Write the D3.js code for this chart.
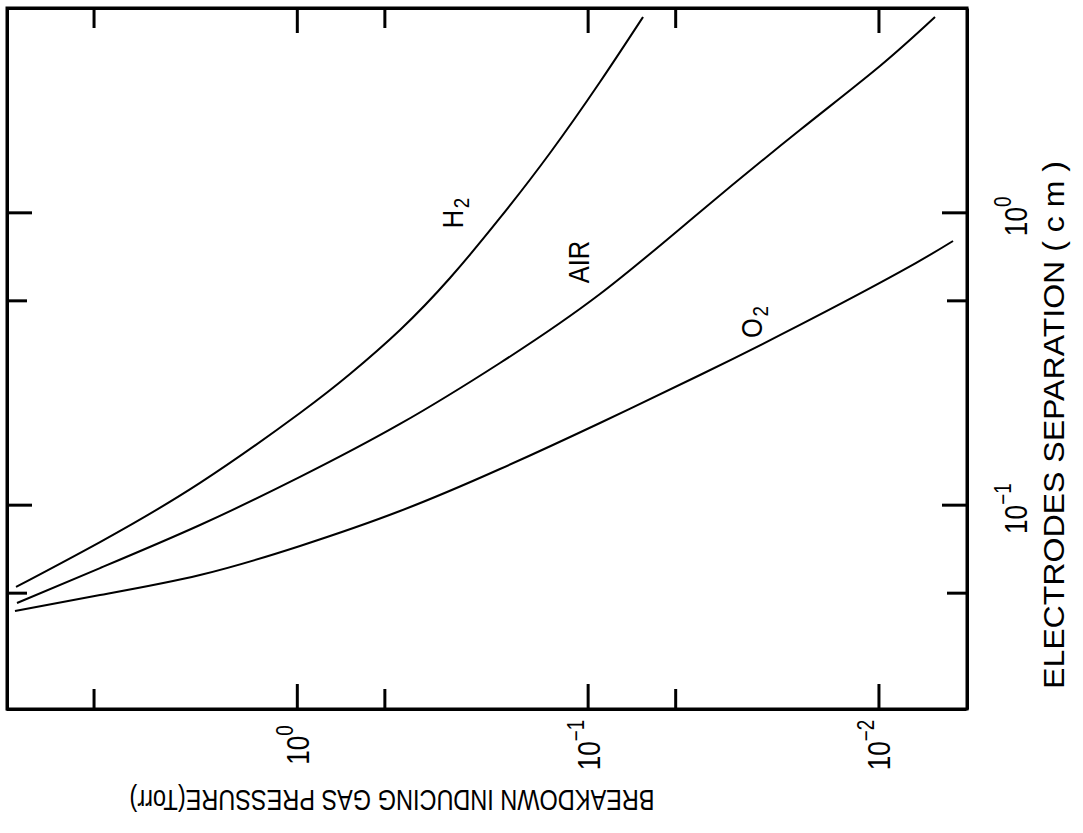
<!DOCTYPE html>
<html>
<head>
<meta charset="utf-8">
<script src="https://cdn.jsdelivr.net/npm/d3@7"></script>
<style>
  body { margin: 0; background: #fff; }
  svg { display: block; }
  text { font-family: "Liberation Sans", "DejaVu Sans", sans-serif; fill: #000; }
</style>
</head>
<body>
<div id="chart"></div>
<script>
// pressure axis (Torr), drawn left->right, decreasing
const pressureMajor = [1, 0.1, 0.01];
const pressureMinor = [5, 0.5, 0.05];
const pressureLabels = [["10", "0"], ["10", "\u22121"], ["10", "\u22122"]];

// electrode separation axis (cm), increasing upward
const sepMajor = [1, 0.1];
const sepMinor = [0.5, 0.05];
const sepLabels = [["10", "0"], ["10", "\u22121"]];

// curves: pressure (Torr) / separation (cm)
const h2Pressure = [9.24, 4.75, 2.152, 0.975, 0.6565, 0.4418, 0.2974, 0.2002, 0.1347, 0.0907, 0.0645];
const h2Separation = [0.0523, 0.0745, 0.1187, 0.2059, 0.2799, 0.396, 0.5963, 0.9564, 1.596, 2.792, 4.659];

const airPressure = [9.166, 4.75, 2.152, 0.975, 0.4418, 0.2002, 0.0907, 0.04108, 0.01862, 0.00988, 0.00639];
const airSeparation = [0.0461, 0.0607, 0.0852, 0.1244, 0.1888, 0.3052, 0.5255, 1.003, 1.912, 3.167, 4.659];

const o2Pressure = [9.314, 4.75, 2.152, 0.975, 0.4418, 0.2002, 0.0907, 0.04108, 0.01862, 0.008432, 0.005541];
const o2Separation = [0.04328, 0.04909, 0.05747, 0.07223, 0.0951, 0.1324, 0.1903, 0.2777, 0.4118, 0.6251, 0.798];

const gasNames = ["H2", "AIR", "O2"];

const width = 1083, height = 833;
const frameL = 7, frameR = 967, frameT = 8, frameB = 709;

const svg = d3.select("#chart").append("svg")
    .attr("width", width)
    .attr("height", height);

const x = d3.scaleLog().domain([10, 0.005]).range([frameL - 1, frameR - 1]);
const y = d3.scaleLog().domain([0.02, 5]).range([frameB, frameT]);

// frame + inward ticks on all four sides
function axisStyle(g) {
    g.select(".domain").attr("stroke-width", 3);
    g.selectAll(".tick line").attr("stroke-width", 3);
    g.selectAll(".tick text").remove();
}

const sides = [
    {ax: d3.axisBottom, sc: x, major: pressureMajor, minor: pressureMinor, t: "translate(0," + frameB + ")"},
    {ax: d3.axisTop, sc: x, major: pressureMajor, minor: pressureMinor, t: "translate(0," + frameT + ")"},
    {ax: d3.axisLeft, sc: y, major: sepMajor, minor: sepMinor, t: "translate(" + frameL + ",0)"},
    {ax: d3.axisRight, sc: y, major: sepMajor, minor: sepMinor, t: "translate(" + frameR + ",0)"}
];

sides.forEach(function (s) {
    svg.append("g")
        .attr("transform", s.t)
        .call(s.ax(s.sc).tickValues(s.major).tickSizeInner(-25).tickSizeOuter(0).tickFormat(""))
        .call(axisStyle);
    svg.append("g")
        .attr("transform", s.t)
        .call(s.ax(s.sc).tickValues(s.minor).tickSizeInner(-20).tickSizeOuter(0).tickFormat(""))
        .call(axisStyle)
        .select(".domain").remove();
});

// close the frame corners
svg.append("rect")
    .attr("x", frameL).attr("y", frameT)
    .attr("width", frameR - frameL).attr("height", frameB - frameT)
    .attr("fill", "none").attr("stroke", "#000").attr("stroke-width", 3);

// curves
const line = d3.line()
    .x(function (d) { return x(d[0]); })
    .y(function (d) { return y(d[1]); })
    .curve(d3.curveNatural);

const curves = [
    d3.zip(h2Pressure, h2Separation),
    d3.zip(airPressure, airSeparation),
    d3.zip(o2Pressure, o2Separation)
];

svg.selectAll("path.curve")
    .data(curves)
    .enter().append("path")
    .attr("class", "curve")
    .attr("d", line)
    .attr("fill", "none")
    .attr("stroke", "#000")
    .attr("stroke-width", 2);

// tick labels, rotated like the figure
function powerLabel(sel, lab, fs) {
    sel.append("tspan").text(lab[0]);
    sel.append("tspan").attr("dy", -fs * 0.5).attr("font-size", fs * 0.72).text(lab[1]);
}

const tickFs = 32;
pressureMajor.forEach(function (p, i) {
    const t = svg.append("text")
        .attr("transform", "translate(" + (x(p) + 12) + ",745) rotate(-90) scale(0.82,1)")
        .attr("text-anchor", "middle")
        .attr("font-size", tickFs);
    powerLabel(t, pressureLabels[i], tickFs);
});

sepMajor.forEach(function (d, i) {
    const t = svg.append("text")
        .attr("transform", "translate(1027," + (y(d) + 4) + ") rotate(-90) scale(0.82,1)")
        .attr("text-anchor", "middle")
        .attr("font-size", tickFs);
    powerLabel(t, sepLabels[i], tickFs);
});

// axis titles
svg.append("text")
    .attr("transform", "translate(1064,425) rotate(-90)")
    .attr("text-anchor", "middle")
    .attr("font-size", 30)
    .attr("textLength", 528)
    .attr("lengthAdjust", "spacingAndGlyphs")
    .text("ELECTRODES SEPARATION ( c m )");

svg.append("text")
    .attr("transform", "translate(392,790) rotate(180)")
    .attr("text-anchor", "middle")
    .attr("font-size", 29)
    .attr("textLength", 525)
    .attr("lengthAdjust", "spacingAndGlyphs")
    .text("BREAKDOWN  INDUCING GAS PRESSURE(Torr)");

// curve labels
const labelPos = [[463, 213], [589, 262], [762, 322]];
gasNames.forEach(function (name, i) {
    const t = svg.append("text")
        .attr("transform", "translate(" + labelPos[i][0] + "," + labelPos[i][1] + ") rotate(-90) scale(0.85,1)")
        .attr("text-anchor", "middle")
        .attr("font-size", 30);
    if (name.endsWith("2")) {
        t.append("tspan").text(name.slice(0, -1));
        t.append("tspan").attr("dx", 2).attr("dy", 6).attr("font-size", 22).text("2");
    } else {
        t.text(name);
    }
});
</script>
</body>
</html>
